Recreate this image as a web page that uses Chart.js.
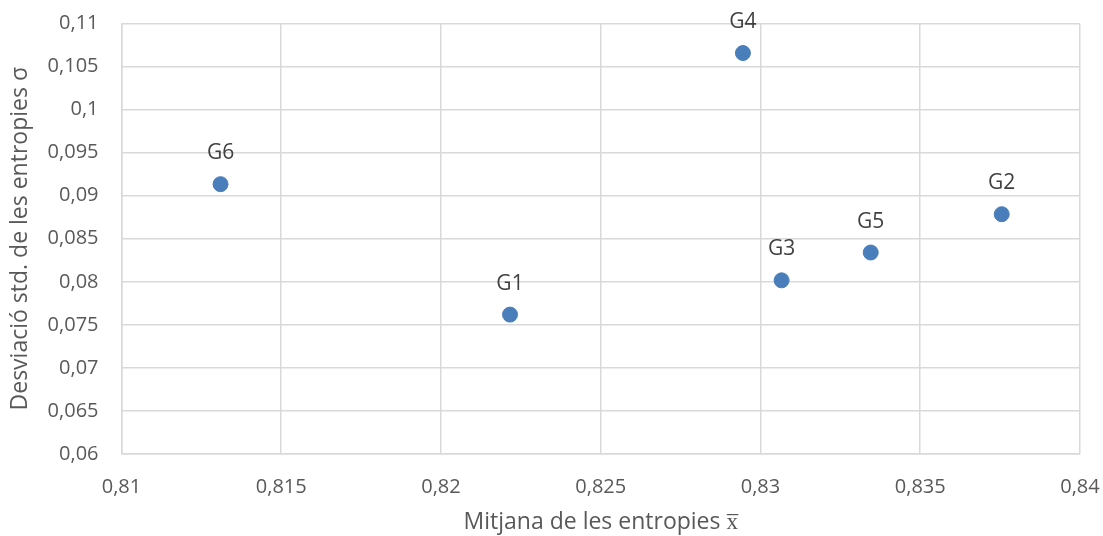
<!DOCTYPE html>
<html>
<head>
<meta charset="utf-8">
<script src="https://cdn.jsdelivr.net/npm/chart.js@4.4.1/dist/chart.umd.min.js"></script>
<style>
    html, body { margin: 0; padding: 0; background: #ffffff; }
    #wrap { width: 1103px; height: 536px; position: relative; }
</style>
</head>
<body>
<div id="wrap"><canvas id="scatterChart"></canvas></div>
<script>
        // Values
        const groupNames = ["G1", "G2", "G3", "G4", "G5", "G6"];
        const meanEntropy = [0.82216, 0.83755, 0.83066, 0.82945, 0.83345, 0.8131];
        const stdEntropy = [0.07619, 0.08785, 0.08017, 0.10657, 0.0834, 0.09134];

        const xTicksMin = 0.81, xTicksMax = 0.84, xStep = 0.005;
        const yTicksMin = 0.06, yTicksMax = 0.11, yStep = 0.005;

        function commaFormat(value) {
            return Number(value.toFixed(3)).toString().replace('.', ',');
        }

        // Draws the group name above every point
        const pointLabels = {
            id: 'pointLabels',
            afterDatasetsDraw(chart) {
                const ctx = chart.ctx;
                const meta = chart.getDatasetMeta(0);
                ctx.save();
                ctx.font = '21px "Open Sans"';
                ctx.fillStyle = '#404040';
                ctx.textAlign = 'center';
                ctx.textBaseline = 'middle';
                meta.data.forEach((pt, i) => {
                    ctx.fillText(groupNames[i], pt.x, pt.y - 31);
                });
                ctx.restore();
            }
        };

        document.addEventListener('DOMContentLoaded', function () {
            var canvas = document.getElementById('scatterChart');
            var ctx = canvas.getContext('2d');
            const points = meanEntropy.map((x, i) => ({ x: x, y: stdEntropy[i] }));
            new Chart(ctx, {
                type: 'scatter',
                data: {
                    datasets: [{
                        data: points,
                        backgroundColor: '#4a7ebb',
                        borderColor: '#4a7ebb',
                        pointRadius: 7.5,
                        pointHoverRadius: 7.5
                    }]
                },
                options: {
                    responsive: true,
                    maintainAspectRatio: false,
                    animation: false,
                    layout: { padding: 0 },
                    plugins: {
                        legend: { display: false },
                        tooltip: { enabled: false }
                    },
                    scales: {
                        x: {
                            type: 'linear',
                            min: xTicksMin,
                            max: xTicksMax,
                            ticks: {
                                stepSize: xStep,
                                callback: commaFormat,
                                color: '#595959',
                                font: { family: '"Open Sans"', size: 20 },
                                padding: 21
                            },
                            grid: { color: '#d9d9d9', lineWidth: 1.5, drawTicks: false },
                            border: { color: '#d9d9d9', width: 1.5 },
                            title: {
                                display: true,
                                text: 'Mitjana de les entropies x\u0305',
                                color: '#595959',
                                font: { family: '"Open Sans"', size: 23 },
                                padding: { top: 2, bottom: 0 }
                            },
                            afterFit: function (scale) {
                                scale.height = 82;
                                scale.paddingLeft = 0;
                                scale.paddingRight = 23;
                            }
                        },
                        y: {
                            type: 'linear',
                            min: yTicksMin,
                            max: yTicksMax,
                            ticks: {
                                stepSize: yStep,
                                callback: commaFormat,
                                color: '#595959',
                                font: { family: '"Open Sans"', size: 20 },
                                padding: 23
                            },
                            grid: { color: '#d9d9d9', lineWidth: 1.5, drawTicks: false },
                            border: { color: '#d9d9d9', width: 1.5 },
                            title: {
                                display: true,
                                text: 'Desviació std. de les entropies σ',
                                color: '#595959',
                                font: { family: '"Open Sans"', size: 23 },
                                padding: { top: 7, bottom: 0 }
                            },
                            afterFit: function (scale) {
                                scale.width = 121.5;
                                scale.paddingTop = 23.5;
                                scale.paddingBottom = 0;
                            }
                        }
                    }
                },
                plugins: [pointLabels]
            });
        });
</script>
</body>
</html>
